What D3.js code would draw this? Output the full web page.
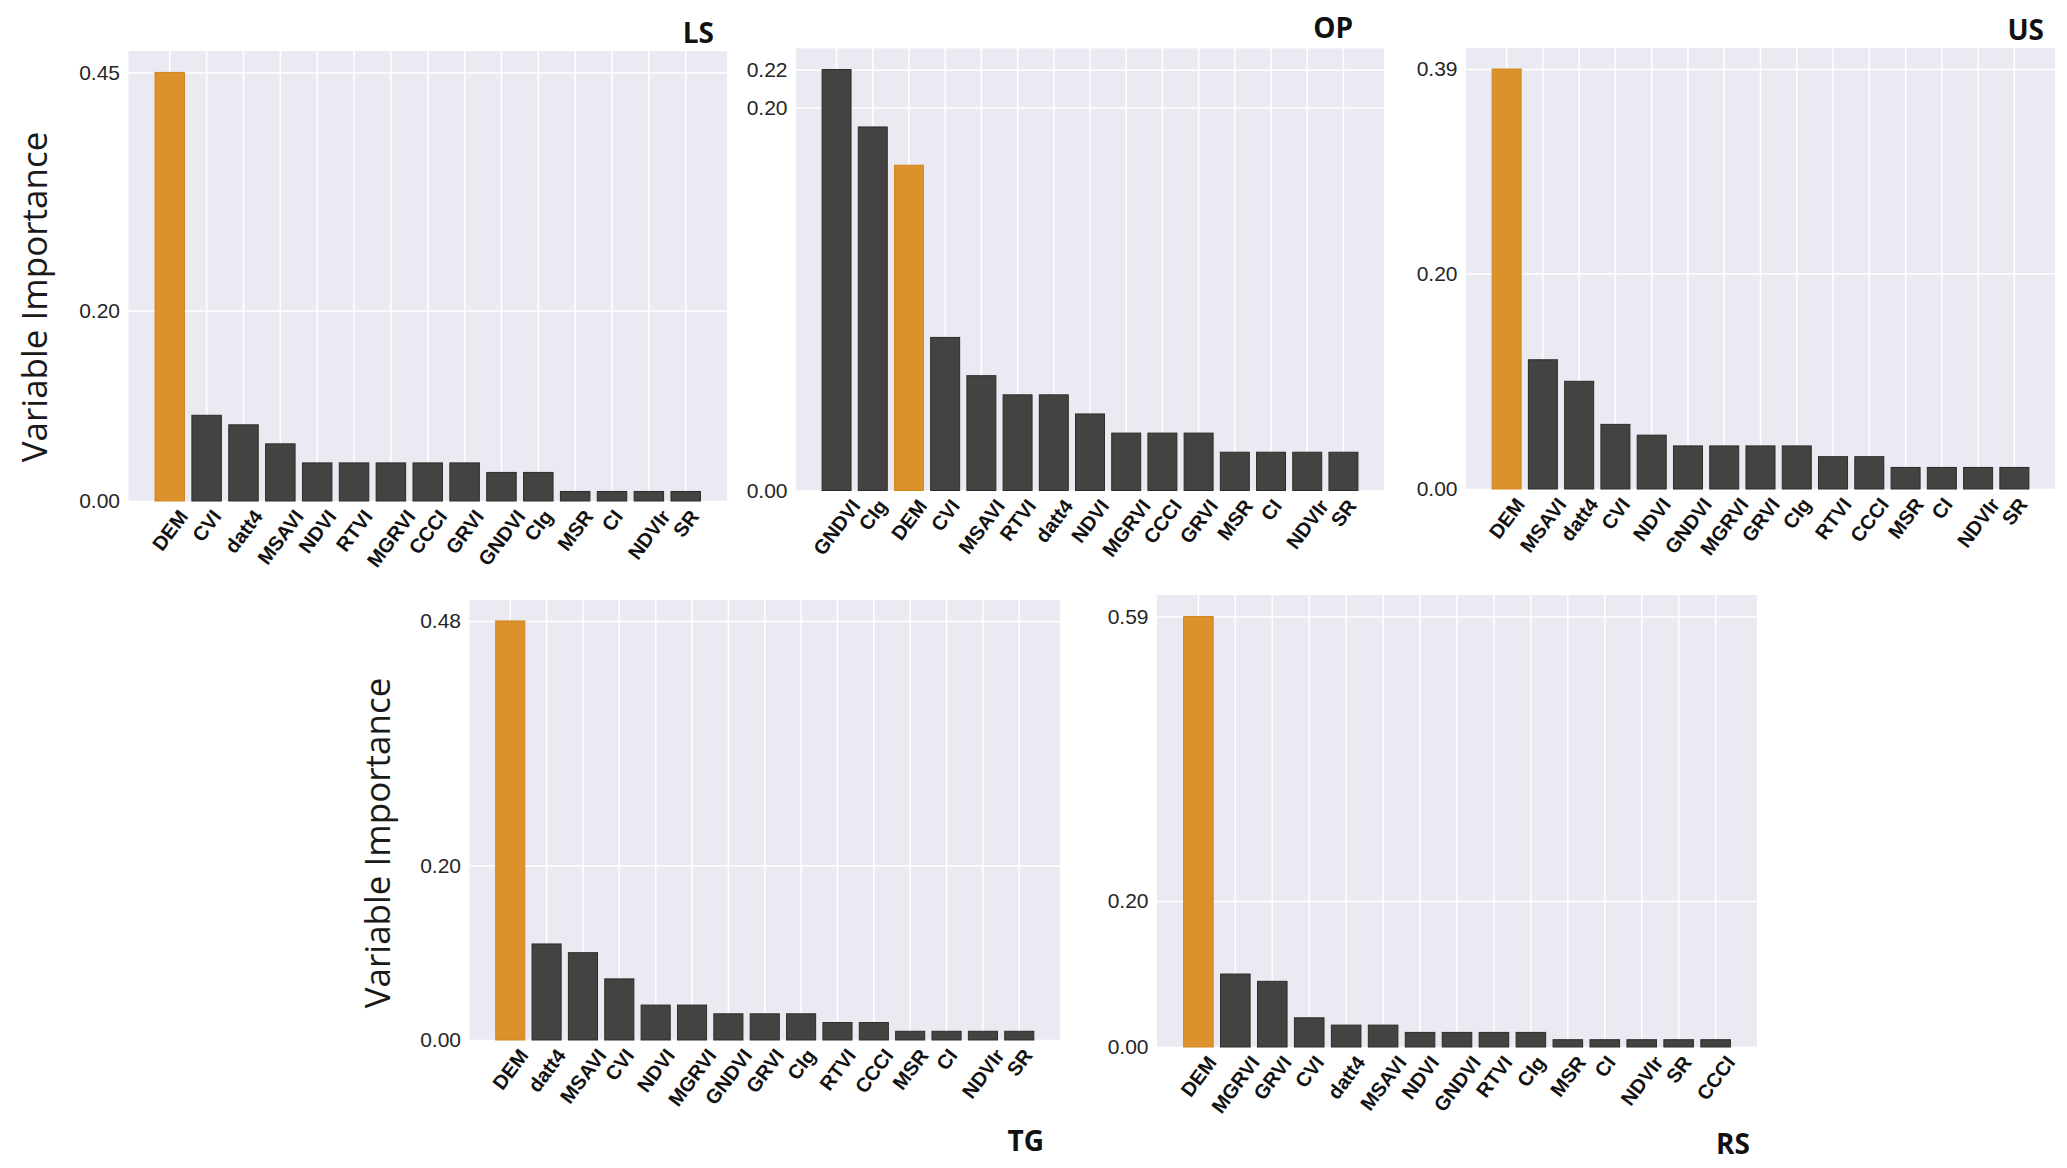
<!DOCTYPE html>
<html>
<head>
<meta charset="utf-8">
<script src="https://cdn.jsdelivr.net/npm/d3@7"></script>
<style>
  body { margin: 0; background: #fff; }
  svg { display: block; }
</style>
</head>
<body>
<div id="chart"></div>
<script>
//---------------------------DATA--------------------------------//
const lsNames  = ["DEM","CVI","datt4","MSAVI","NDVI","RTVI","MGRVI","CCCI","GRVI","GNDVI","CIg","MSR","CI","NDVIr","SR"];
const lsValues = [0.45, 0.09, 0.08, 0.06, 0.04, 0.04, 0.04, 0.04, 0.04, 0.03, 0.03, 0.01, 0.01, 0.01, 0.01];

const opNames  = ["GNDVI","CIg","DEM","CVI","MSAVI","RTVI","datt4","NDVI","MGRVI","CCCI","GRVI","MSR","CI","NDVIr","SR"];
const opValues = [0.22, 0.19, 0.17, 0.08, 0.06, 0.05, 0.05, 0.04, 0.03, 0.03, 0.03, 0.02, 0.02, 0.02, 0.02];

const usNames  = ["DEM","MSAVI","datt4","CVI","NDVI","GNDVI","MGRVI","GRVI","CIg","RTVI","CCCI","MSR","CI","NDVIr","SR"];
const usValues = [0.39, 0.12, 0.10, 0.06, 0.05, 0.04, 0.04, 0.04, 0.04, 0.03, 0.03, 0.02, 0.02, 0.02, 0.02];

const tgNames  = ["DEM","datt4","MSAVI","CVI","NDVI","MGRVI","GNDVI","GRVI","CIg","RTVI","CCCI","MSR","CI","NDVIr","SR"];
const tgValues = [0.48, 0.11, 0.10, 0.07, 0.04, 0.04, 0.03, 0.03, 0.03, 0.02, 0.02, 0.01, 0.01, 0.01, 0.01];

const rsNames  = ["DEM","MGRVI","GRVI","CVI","datt4","MSAVI","NDVI","GNDVI","RTVI","CIg","MSR","CI","NDVIr","SR","CCCI"];
const rsValues = [0.59, 0.10, 0.09, 0.04, 0.03, 0.03, 0.02, 0.02, 0.02, 0.02, 0.01, 0.01, 0.01, 0.01, 0.01];

const highlight = "DEM";
const yLabel = "Variable Importance";

//--------------------------LAYOUT-------------------------------//
const width = 2067;
const height = 1168;

const panels = [
  {title: "LS", names: lsNames, values: lsValues, x0: 128.5, x1: 727,  y0: 51,  y1: 501,  tx: 714,  ty: 43,   ylab: [47, 297]},
  {title: "OP", names: opNames, values: opValues, x0: 796,   x1: 1384, y0: 48.5, y1: 490.5, tx: 1353, ty: 38},
  {title: "US", names: usNames, values: usValues, x0: 1466,  x1: 2055, y0: 48,  y1: 489,  tx: 2044, ty: 40},
  {title: "TG", names: tgNames, values: tgValues, x0: 469.5, x1: 1060, y0: 600, y1: 1040, tx: 1044, ty: 1151, ylab: [390, 843]},
  {title: "RS", names: rsNames, values: rsValues, x0: 1157,  x1: 1757, y0: 595, y1: 1047, tx: 1750, ty: 1154}
];

const svg = d3.select("#chart").append("svg")
    .attr("width", width)
    .attr("height", height)
    .attr("viewBox", "0 0 " + width + " " + height);

const fmt = d3.format(".2f");
const angle = 53;
const labelSize = 20;

function drawPanel(p) {
    const g = svg.append("g");
    const vmax = d3.max(p.values);

    const xScale = d3.scaleBand()
        .domain(p.names)
        .range([p.x0, p.x1])
        .paddingInner(0.2)
        .paddingOuter(0.72);
    const yScale = d3.scaleLinear()
        .domain([0, vmax * 1.05])
        .range([p.y1, p.y0]);

    // background
    g.append("rect")
        .attr("x", p.x0).attr("y", p.y0)
        .attr("width", p.x1 - p.x0).attr("height", p.y1 - p.y0)
        .attr("fill", "#eaeaf2");

    // vertical grid
    g.append("g")
        .attr("transform", "translate(0," + p.y1 + ")")
        .call(d3.axisBottom(xScale).tickSize(-(p.y1 - p.y0)).tickFormat(""))
        .call(a => a.select(".domain").remove())
        .call(a => a.selectAll("line").attr("stroke", "#fff").attr("stroke-width", 1.5));

    // horizontal grid + y tick labels
    g.append("g")
        .attr("transform", "translate(" + p.x0 + ",0)")
        .call(d3.axisLeft(yScale).tickValues([0, 0.2, vmax]).tickFormat(fmt)
            .tickSize(-(p.x1 - p.x0)).tickPadding(8.5))
        .call(a => a.select(".domain").remove())
        .call(a => a.selectAll("line").attr("stroke", "#fff").attr("stroke-width", 1.5))
        .call(a => a.selectAll("text")
            .attr("font-family", "'Liberation Sans', Arial, sans-serif")
            .attr("font-size", 21)
            .attr("fill", "#262626"));

    // bars
    g.append("g").selectAll("rect")
        .data(p.names.map((n, i) => ({name: n, value: p.values[i]})))
        .join("rect")
        .attr("x", d => xScale(d.name))
        .attr("width", xScale.bandwidth())
        .attr("y", d => yScale(d.value))
        .attr("height", d => yScale(0) - yScale(d.value))
        .attr("fill", d => d.name === highlight ? "#dd912c" : "#444341")
        .attr("stroke", d => d.name === highlight ? "#d3861c" : "#2c2c2a")
        .attr("stroke-width", 1);

    // x tick labels, rotated, centred on the tick
    const rad = angle * Math.PI / 180;
    g.append("g").selectAll("text")
        .data(p.names)
        .join("text")
        .text(d => d)
        .attr("font-family", "'Liberation Sans', Arial, sans-serif")
        .attr("font-weight", "bold")
        .attr("font-size", labelSize)
        .attr("fill", "#111")
        .attr("text-anchor", "middle")
        .attr("dy", "0.36em")
        .attr("transform", function(d) {
            const L = this.getComputedTextLength();
            const cap = labelSize * 0.72;
            const cx = xScale(d) + xScale.bandwidth() / 2;
            const cy = p.y1 + 7 + (L * Math.sin(rad) + cap * Math.cos(rad)) / 2;
            return "translate(" + cx + "," + cy + ") rotate(" + (-angle) + ")";
        });

    // panel title
    g.append("text")
        .attr("x", p.tx).attr("y", p.ty)
        .attr("text-anchor", "end")
        .attr("font-family", "'Open Sans', sans-serif")
        .attr("font-weight", "bold")
        .attr("font-size", 28)
        .attr("fill", "#111")
        .text(p.title);

    // y axis label
    if (p.ylab) {
        g.append("text")
            .attr("transform", "translate(" + p.ylab[0] + "," + p.ylab[1] + ") rotate(-90)")
            .attr("text-anchor", "middle")
            .attr("font-family", "'Open Sans', sans-serif")
            .attr("font-size", 35)
            .attr("fill", "#1a1a1a")
            .text(yLabel);
    }
}

panels.forEach(drawPanel);
</script>
</body>
</html>
